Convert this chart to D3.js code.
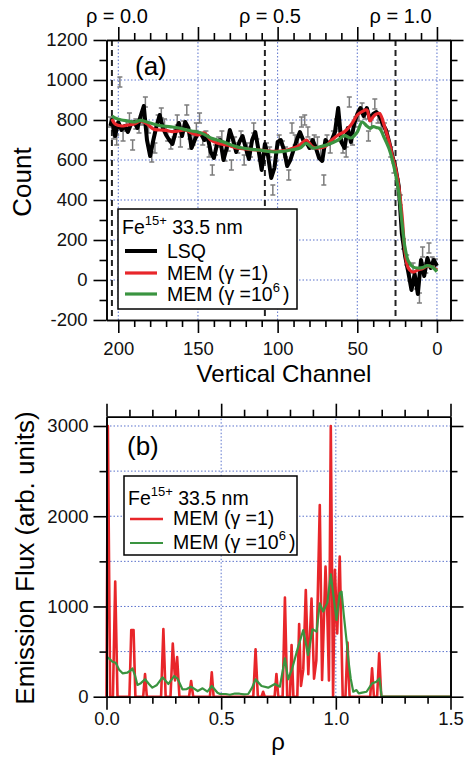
<!DOCTYPE html>
<html>
<head>
<meta charset="utf-8">
<script src="https://cdn.jsdelivr.net/npm/d3@7"></script>
<style>
  body { margin: 0; background: #fff; }
  svg { display: block; font-family: "Liberation Sans", Arial, sans-serif; }
</style>
</head>
<body>
<div id="chart"></div>
<script>
// ---- panel (a): counts vs vertical channel ----
const lsqData = [[205,770],[204,800],[202,720],[200,790],[198,750],[196,770],[194,740],[192,780],[190,790],[188,760],[186,820],[184,870],[182,700],[180,620],[178,700],[176,770],[174,825],[172,760],[170,725],[168,700],[166,680],[164,740],[162,785],[160,720],[158,790],[156,760],[154,660],[152,700],[150,735],[148,730],[146,700],[144,720],[142,640],[140,610],[138,680],[136,700],[134,600],[132,660],[130,750],[128,700],[126,640],[124,690],[122,720],[120,660],[118,605],[116,700],[114,740],[112,650],[110,550],[108,680],[106,620],[104,510],[102,560],[100,690],[98,700],[96,650],[94,570],[92,600],[90,650],[88,700],[86,740],[84,700],[82,690],[80,660],[78,700],[76,660],[74,610],[72,595],[70,700],[68,680],[66,700],[64,740],[62,860],[60,690],[58,660],[56,760],[54,690],[52,780],[50,830],[48,860],[46,820],[44,860],[42,800],[40,830],[38,840],[36,820],[34,780],[32,750],[30,690],[28,620],[26,560],[24,470],[22,230],[20,120],[18,40],[16,-50],[14,30],[12,-70],[10,100],[8,20],[6,110],[4,60],[2,100],[0,70]];

const countPoints = [[205,790],[203,730],[201,700],[199,990],[197,720],[195,770],[193,810],[191,675],[189,780],[187,760],[185,800],[183,890],[181,760],[179,615],[177,660],[175,800],[173,835],[171,780],[169,720],[167,680],[165,740],[163,800],[161,690],[159,770],[157,850],[155,680],[153,700],[151,760],[149,810],[147,700],[145,720],[143,640],[141,550],[139,650],[137,690],[135,720],[133,620],[131,670],[129,575],[127,690],[125,660],[123,720],[121,600],[119,660],[117,640],[115,760],[113,680],[111,620],[109,600],[107,660],[105,640],[103,450],[101,620],[99,700],[97,670],[95,640],[93,525],[91,760],[89,700],[87,690],[85,790],[83,800],[81,740],[79,680],[77,700],[75,690],[73,640],[71,500],[69,700],[67,660],[65,720],[63,780],[61,720],[59,660],[57,640],[55,890],[53,700],[51,790],[49,820],[47,860],[45,830],[43,720],[41,790],[39,880],[37,810],[35,780],[33,760],[31,720],[29,640],[27,560],[25,480],[23,400],[21,180],[19,100],[17,20],[15,60],[13,-20],[11,-90],[9,140],[7,60],[5,160],[3,90],[1,80]];
const countErr = 25;

const memCh = [204,202,198,194,190,186,182,178,174,170,166,162,158,154,150,146,142,138,134,130,126,122,118,114,110,106,102,98,94,90,86,82,78,74,70,66,62,58,54,50,47,44,42,40,38,36,33,30,28,26,24,22,20,18,15,12,9,6,3,0];
const memRedA = [805,780,770,775,780,795,780,755,750,748,742,745,750,735,725,735,700,685,677,672,660,657,653,650,648,645,643,645,650,660,675,700,665,660,668,700,725,742,775,825,842,850,795,817,830,833,770,690,620,560,470,330,140,60,40,50,58,70,65,50];
const memGreenA = [820,810,800,795,790,798,790,780,772,768,765,760,752,745,740,728,710,700,690,678,667,660,655,652,648,643,640,642,647,652,660,683,660,665,673,685,700,722,710,740,790,770,758,767,762,758,710,655,600,530,440,290,160,95,65,60,62,72,65,42];

const rhoLineCh = [204, 108, 26];
const rhoLineLabels = ["ρ = 0.0", "ρ = 0.5", "ρ = 1.0"];
const countTicks = [-200, 0, 200, 400, 600, 800, 1000, 1200];
const channelTicks = [200, 150, 100, 50, 0];

// ---- panel (b): emission flux vs rho ----
const memRedB = [[0,0],[0.006,3000],[0.016,0],[0.028,0],[0.038,1275],[0.048,0],[0.1,0],[0.108,740],[0.118,740],[0.126,0],[0.16,0],[0.168,250],[0.176,0],[0.238,0],[0.248,750],[0.258,0],[0.279,0],[0.289,590],[0.299,180],[0.308,440],[0.318,0],[0.36,0],[0.369,174],[0.378,0],[0.451,0],[0.459,270],[0.467,0],[0.64,0],[0.65,525],[0.66,0],[0.676,0],[0.683,55],[0.69,0],[0.733,0],[0.741,252],[0.749,0],[0.768,0],[0.778,1100],[0.788,0],[0.8,0],[0.807,573],[0.815,0],[0.832,0],[0.84,806],[0.848,120],[0.858,300],[0.869,1183],[0.88,250],[0.894,1087],[0.905,200],[0.915,400],[0.93,2125],[0.94,185],[0.955,1441],[0.963,900],[0.97,180],[0.978,3000],[0.988,0],[0.996,1405],[1.006,700],[1.017,1552],[1.03,0],[1.042,0],[1.051,600],[1.06,0],[1.15,0],[1.158,315],[1.166,0],[1.18,0],[1.189,481],[1.198,0],[1.5,0]];
const memGreenB = [[0,443],[0.013,420],[0.026,388],[0.04,377],[0.055,300],[0.07,259],[0.09,266],[0.105,290],[0.113,314],[0.125,230],[0.135,130],[0.15,150],[0.168,193],[0.185,140],[0.2,100],[0.22,130],[0.244,215],[0.27,141],[0.295,229],[0.31,200],[0.331,82],[0.35,85],[0.368,111],[0.398,63],[0.419,93],[0.44,56],[0.459,119],[0.484,44],[0.495,30],[0.52,30],[0.538,22],[0.56,35],[0.58,33],[0.6,25],[0.618,30],[0.635,100],[0.65,193],[0.665,150],[0.676,119],[0.705,100],[0.734,141],[0.756,111],[0.778,426],[0.792,193],[0.81,315],[0.836,555],[0.858,739],[0.879,462],[0.898,747],[0.916,721],[0.93,1035],[0.945,943],[0.963,1043],[0.978,1357],[0.988,1147],[1.003,850],[1.017,1147],[1.025,1164],[1.035,900],[1.048,592],[1.055,400],[1.065,200],[1.076,55],[1.09,74],[1.1,37],[1.115,45],[1.134,55],[1.158,148],[1.177,166],[1.19,203],[1.2,0],[1.5,0]];
const fluxTicks = [0, 1000, 2000, 3000];
const rhoTicks = [0, 0.5, 1.0, 1.5];

const red = "#e8262a";
const green = "#3a9440";
const gridColor = "#5a72cc";

const svg = d3.select("#chart")
  .append("svg")
  .attr("width", 465)
  .attr("height", 760);

// scales
const xA = d3.scaleLinear().domain([207.4, -8.5]).range([106.5, 450.5]);
const yA = d3.scaleLinear().domain([-200, 1200]).range([320, 40]);
const xB = d3.scaleLinear().domain([0, 1.5]).range([106.5, 450.5]);
const yB = d3.scaleLinear().domain([0, 3103]).range([696.7, 416.7]);

function styleAxis(g) {
  g.select(".domain").attr("stroke-width", 1.6);
  g.selectAll(".tick line").attr("stroke-width", 1.6);
  g.selectAll(".tick text").attr("fill", "#111").style("font-size", "18.5px")
    .style("font-family", "'Liberation Sans', Arial, sans-serif");
}

function drawAxes(x, y, opt) {
  const [x0, x1] = x.range();
  const [y0, y1] = y.range();
  const g = svg.append("g");
  const defs = [
    [d3.axisLeft(y).tickValues(opt.yMajor).tickFormat(opt.yFmt).tickPadding(opt.yPad), x0, null, 13],
    [d3.axisLeft(y).tickValues(opt.yMinor).tickFormat(""), x0, null, 7],
    [d3.axisRight(y).tickValues(opt.yMajor).tickFormat(""), x1, null, 13],
    [d3.axisRight(y).tickValues(opt.yMinor).tickFormat(""), x1, null, 7],
    [d3.axisBottom(x).tickValues(opt.xMajor).tickFormat(opt.xFmt).tickPadding(opt.xPad), null, y0, 13],
    [d3.axisBottom(x).tickValues(opt.xMinor).tickFormat(""), null, y0, 7],
    [d3.axisTop(x).tickValues(opt.xMajor).tickFormat(""), null, y1, 13],
    [d3.axisTop(x).tickValues(opt.xMinor).tickFormat(""), null, y1, 7]
  ];
  defs.forEach(([axis, tx, ty, size]) => {
    g.append("g")
      .attr("transform", `translate(${tx ?? 0},${ty ?? 0})`)
      .call(axis.tickSize(size).tickSizeOuter(0))
      .call(styleAxis);
  });
}

function drawGrid(x, y, xs, ys) {
  const g = svg.append("g").attr("stroke", gridColor).attr("stroke-width", 1)
    .attr("stroke-dasharray", "1.5,2");
  g.selectAll(".gx").data(xs).enter().append("line")
    .attr("x1", d => x(d)).attr("x2", d => x(d))
    .attr("y1", y.range()[0]).attr("y2", y.range()[1]);
  g.selectAll(".gy").data(ys).enter().append("line")
    .attr("x1", x.range()[0]).attr("x2", x.range()[1])
    .attr("y1", d => y(d)).attr("y2", d => y(d));
}

function drawLegend(x, y, w, h, rows, titleY, fontSize) {
  const g = svg.append("g");
  g.append("rect").attr("x", x).attr("y", y).attr("width", w).attr("height", h)
    .attr("fill", "#fff").attr("stroke", "#000").attr("stroke-width", 1.5);
  const t = g.append("text").attr("x", x + 4).attr("y", titleY).style("font-size", fontSize + "px");
  t.append("tspan").text("Fe");
  t.append("tspan").attr("dy", -9).style("font-size", "13px").text("15+");
  t.append("tspan").attr("dy", 9).text(" 33.5 nm");
  rows.forEach(r => {
    g.append("line").attr("x1", r.x1).attr("x2", r.x2).attr("y1", r.ly).attr("y2", r.ly)
      .attr("stroke", r.color).attr("stroke-width", r.width);
    const tt = g.append("text").attr("x", r.tx).attr("y", r.ty).style("font-size", fontSize + "px");
    tt.append("tspan").text(r.label);
    if (r.sup) {
      tt.append("tspan").attr("dy", -9).style("font-size", "13px").text(r.sup);
      tt.append("tspan").attr("dy", 9).attr("dx", 3).text(")");
    }
  });
}

// ================= panel (a) =================
drawGrid(xA, yA, channelTicks, [0, 200, 400, 600, 800, 1000]);

svg.append("g").selectAll("line").data(rhoLineCh).enter().append("line")
  .attr("x1", d => xA(d)).attr("x2", d => xA(d))
  .attr("y1", yA(1200)).attr("y2", yA(-200))
  .attr("stroke", "#222").attr("stroke-width", 2).attr("stroke-dasharray", "6,4");

svg.append("g").selectAll("text").data(rhoLineCh).enter().append("text")
  .attr("x", d => xA(d) + 5).attr("y", 23)
  .attr("text-anchor", "middle").style("font-size", "20px")
  .text((d, i) => rhoLineLabels[i]);

// error bars
const eb = svg.append("g").attr("stroke", "#7c7c7c").attr("stroke-width", 1.5);
eb.selectAll(".eb").data(countPoints).enter().append("path")
  .attr("d", d => {
    const cx = xA(d[0]), t = yA(d[1] + countErr), b = yA(d[1] - countErr);
    return `M${cx},${t}V${b}M${cx - 2.5},${t}H${cx + 2.5}M${cx - 2.5},${b}H${cx + 2.5}`;
  })
  .attr("fill", "none");

const lineA = d3.line().x(d => xA(d[0])).y(d => yA(d[1])).curve(d3.curveCatmullRom.alpha(0.5));
svg.append("path").datum(lsqData).attr("d", d3.line().x(d => xA(d[0])).y(d => yA(d[1])))
  .attr("fill", "none").attr("stroke", "#000").attr("stroke-width", 4).attr("stroke-linejoin", "round");
svg.append("path").datum(memCh.map((c, i) => [c, memRedA[i]])).attr("d", lineA)
  .attr("fill", "none").attr("stroke", red).attr("stroke-width", 3.2).attr("stroke-linejoin", "round");
svg.append("path").datum(memCh.map((c, i) => [c, memGreenA[i]])).attr("d", lineA)
  .attr("fill", "none").attr("stroke", green).attr("stroke-width", 3.2).attr("stroke-linejoin", "round");

drawAxes(xA, yA, {
  yMajor: countTicks, yMinor: d3.range(-100, 1200, 200), yFmt: d => String(d), yPad: 6,
  xMajor: channelTicks, xMinor: d3.range(10, 201, 10).filter(d => d % 50 !== 0), xFmt: d => String(d), xPad: 9
});

svg.append("text").attr("x", 135).attr("y", 75).style("font-size", "26px").text("(a)");

drawLegend(118, 209, 179, 100, [
  { x1: 125, x2: 157, ly: 251, color: "#000", width: 4, tx: 167, ty: 258, label: "LSQ" },
  { x1: 125, x2: 157, ly: 273, color: red, width: 3.2, tx: 167, ty: 280, label: "MEM (γ =1)" },
  { x1: 125, x2: 157, ly: 294, color: green, width: 3.2, tx: 167, ty: 301, label: "MEM (γ =10", sup: "6" }
], 234, 19.5);

svg.append("text").attr("transform", "translate(31,182) rotate(-90)")
  .attr("text-anchor", "middle").style("font-size", "26px").text("Count");
svg.append("text").attr("x", 284).attr("y", 382)
  .attr("text-anchor", "middle").style("font-size", "24px").text("Vertical Channel");

// ================= panel (b) =================
drawGrid(xB, yB, [0.5, 1.0], [500, 1000, 1500, 2000, 2500, 3000]);

const lineB = d3.line().x(d => xB(d[0])).y(d => yB(d[1]));
svg.append("path").datum(memRedB).attr("d", lineB)
  .attr("fill", "none").attr("stroke", red).attr("stroke-width", 2.6).attr("stroke-linejoin", "round");
svg.append("path").datum(memGreenB).attr("d", lineB)
  .attr("fill", "none").attr("stroke", green).attr("stroke-width", 2.2).attr("stroke-linejoin", "round");

drawAxes(xB, yB, {
  yMajor: fluxTicks, yMinor: [500, 1500, 2500], yFmt: d => String(d), yPad: 5,
  xMajor: rhoTicks, xMinor: d3.range(1, 15).filter(d => d % 5 !== 0).map(d => d / 10), xFmt: d3.format(".1f"), xPad: 2
});

svg.append("text").attr("x", 127).attr("y", 455).style("font-size", "26px").text("(b)");

drawLegend(124, 476, 173, 79, [
  { x1: 130, x2: 163, ly: 519, color: red, width: 2.6, tx: 173, ty: 525, label: "MEM (γ =1)" },
  { x1: 130, x2: 163, ly: 543, color: green, width: 2.2, tx: 173, ty: 549, label: "MEM (γ =10", sup: "6" }
], 505, 19.5);

svg.append("text").attr("transform", "translate(34,558) rotate(-90)")
  .attr("text-anchor", "middle").style("font-size", "26px").text("Emission Flux (arb. units)");
svg.append("text").attr("x", 278).attr("y", 750)
  .attr("text-anchor", "middle").style("font-size", "24px").text("ρ");
</script>
</body>
</html>
